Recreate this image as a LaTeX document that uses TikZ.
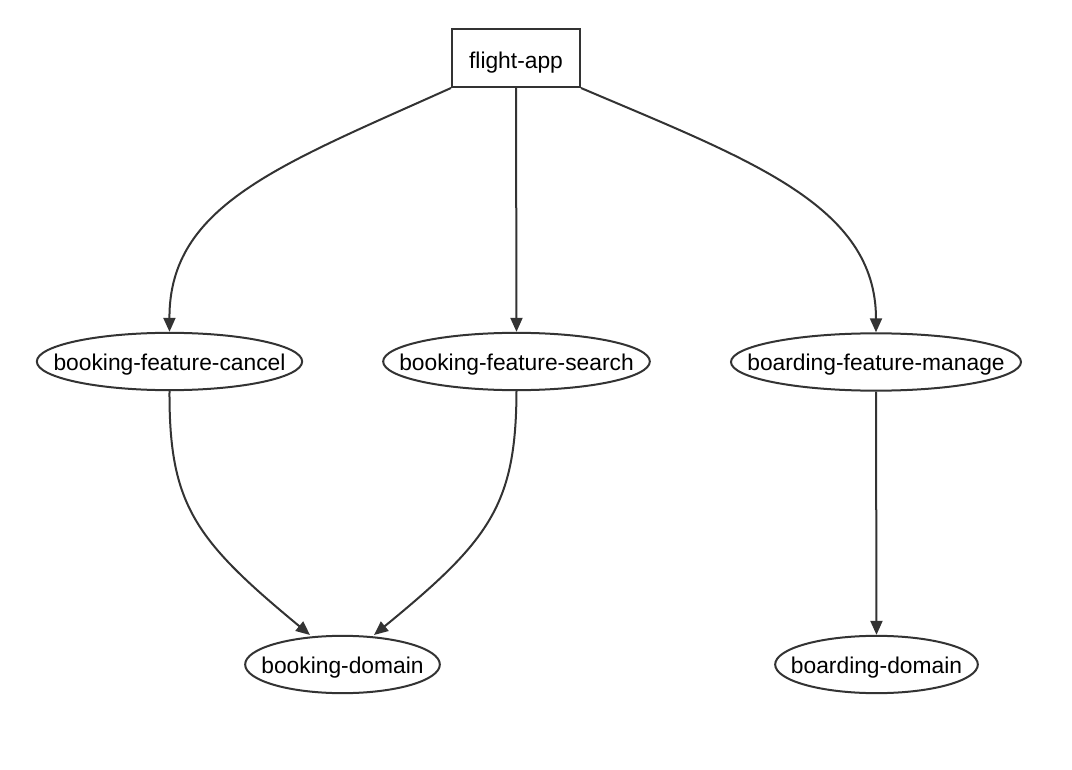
\documentclass[tikz,border=0pt]{standalone}
\usepackage{fontspec}
\setmainfont{Liberation Sans}
\usetikzlibrary{shapes.geometric,arrows.meta}
\definecolor{edgecol}{HTML}{333333}
\begin{document}
\begin{tikzpicture}[x=0.75pt,y=-0.75pt,
  every node/.style={font=\fontsize{17.1pt}{20pt}\selectfont, text=black, inner sep=0pt},
  boxnode/.style={draw=edgecol, line width=1.5pt, rectangle, minimum width=96pt, minimum height=43.5pt, text height=20pt, text depth=3.7pt},
  ellnode/.style={draw=edgecol, line width=1.5pt, ellipse, minimum height=43pt, text height=17pt, text depth=3.7pt},
  arr/.style={draw=edgecol, line width=1.5pt, -{Triangle[length=10.5pt,width=9pt]}}]
\useasboundingbox (0,0) rectangle (1072,770);
\node[boxnode] (fa) at (516,58) {\makebox[0pt]{flight-app}};
\node[ellnode, minimum width=199pt] (bfc) at (169.5,361.5) {\makebox[0pt]{booking-feature-cancel}};
\node[ellnode, minimum width=200pt] (bfs) at (516.5,361.5) {\makebox[0pt]{booking-feature-search}};
\node[ellnode, minimum width=217.5pt] (bfm) at (876,362) {\makebox[0pt]{boarding-feature-manage}};
\node[ellnode, minimum width=146pt] (bd) at (342.5,664.5) {\makebox[0pt]{booking-domain}};
\node[ellnode, minimum width=152pt] (brd) at (876.5,664.5) {\makebox[0pt]{boarding-domain}};
\draw[arr] (fa.south west) .. controls (280,165) and (169,205) .. (bfc.north);
\draw[arr] (fa.south) -- (bfs.north);
\draw[arr] (fa.south east) .. controls (750,160) and (876,205) .. (bfm.north);
\draw[arr] (bfc.south) .. controls (169,505) and (195,540) .. (310,635);
\draw[arr] (bfs.south) .. controls (516,505) and (490,540) .. (374,635);
\draw[arr] (bfm.south) -- (brd.north);
\end{tikzpicture}
\end{document}
